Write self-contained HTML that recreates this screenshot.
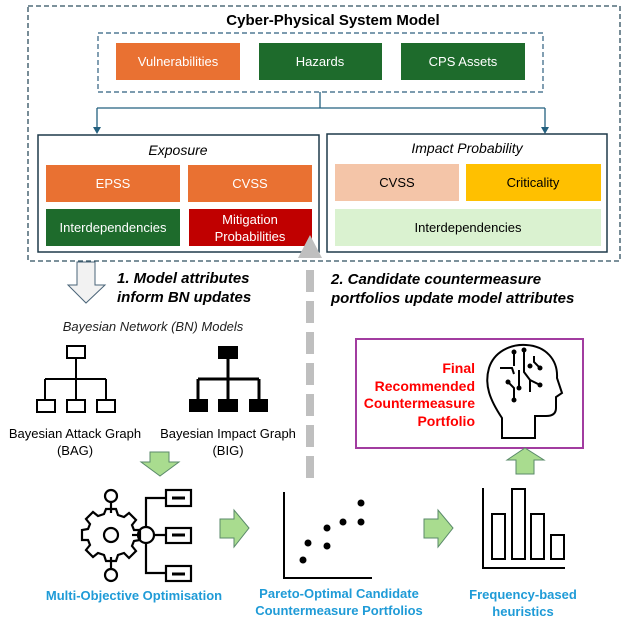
<!DOCTYPE html>
<html><head><style>body{margin:0;background:#fff}svg{display:block}text{font-family:"Liberation Sans",sans-serif}</style></head><body>
<svg width="634" height="626" viewBox="0 0 634 626" xmlns="http://www.w3.org/2000/svg">
<rect x="28" y="6" width="592" height="255" fill="none" stroke="#2E4F5F" stroke-width="1.3" stroke-dasharray="5,3"/>
<text x="333" y="25" font-size="15" font-weight="bold" text-anchor="middle">Cyber-Physical System  Model</text>
<rect x="98" y="33" width="445" height="59" fill="none" stroke="#2E5F7F" stroke-width="1.2" stroke-dasharray="5,3"/>
<rect x="116" y="43" width="124" height="37" fill="#E97132"/>
<text x="178" y="66" font-size="13" fill="#fff" text-anchor="middle">Vulnerabilities</text>
<rect x="259" y="43" width="123" height="37" fill="#1E6B2C"/>
<text x="320" y="66" font-size="13" fill="#fff" text-anchor="middle">Hazards</text>
<rect x="401" y="43" width="124" height="37" fill="#1E6B2C"/>
<text x="463" y="66" font-size="13" fill="#fff" text-anchor="middle">CPS Assets</text>
<path d="M320,92 V108 M97,108 H545 M97,108 V132 M545,108 V132" stroke="#23607F" stroke-width="1.3" fill="none"/>
<path d="M93,127 L101,127 L97,134 z M541,127 L549,127 L545,134 z" fill="#23607F"/>
<rect x="38" y="135" width="281" height="117" fill="none" stroke="#1F3A4A" stroke-width="1.5"/>
<rect x="327" y="134" width="280" height="118" fill="none" stroke="#1F3A4A" stroke-width="1.5"/>
<text x="178" y="155" font-size="14" font-style="italic" text-anchor="middle">Exposure</text>
<text x="467" y="153" font-size="14" font-style="italic" text-anchor="middle">Impact Probability</text>
<rect x="46" y="165" width="134" height="37" fill="#E97132"/><text x="113" y="188" font-size="13" fill="#fff" text-anchor="middle">EPSS</text>
<rect x="188" y="165" width="124" height="37" fill="#E97132"/><text x="250" y="188" font-size="13" fill="#fff" text-anchor="middle">CVSS</text>
<rect x="46" y="209" width="134" height="37" fill="#1E6B2C"/><text x="113" y="232" font-size="13" fill="#fff" text-anchor="middle">Interdependencies</text>
<rect x="189" y="209" width="123" height="37" fill="#C00000"/><text x="250" y="224" font-size="13" fill="#fff" text-anchor="middle">Mitigation</text><text x="250" y="241" font-size="13" fill="#fff" text-anchor="middle">Probabilities</text>
<rect x="335" y="164" width="124" height="37" fill="#F4C5A8"/><text x="397" y="187" font-size="13" text-anchor="middle">CVSS</text>
<rect x="466" y="164" width="135" height="37" fill="#FFC000"/><text x="533" y="187" font-size="13" text-anchor="middle">Criticality</text>
<rect x="335" y="209" width="266" height="37" fill="#DAF2D0"/><text x="468" y="232" font-size="13" text-anchor="middle">Interdependencies</text>
<path d="M77,262 H95 V285 H105 L86,303 L68,285 H77 z" fill="#F2F2F2" stroke="#4A6478" stroke-width="1"/>
<text x="117" y="283" font-size="15" font-weight="bold" font-style="italic">1. Model attributes</text>
<text x="117" y="302" font-size="15" font-weight="bold" font-style="italic">inform BN updates</text>
<text x="331" y="284" font-size="15" font-weight="bold" font-style="italic">2. Candidate countermeasure</text>
<text x="331" y="303" font-size="15" font-weight="bold" font-style="italic">portfolios update model attributes</text>
<path d="M310,235 L322,258 L298,258 z" fill="#BFBFBF"/>
<line x1="310" y1="270" x2="310" y2="485" stroke="#BFBFBF" stroke-width="8" stroke-dasharray="22,9"/>
<text x="153" y="331" font-size="13" font-style="italic" text-anchor="middle" fill="#222">Bayesian Network (BN) Models</text>
<g fill="none" stroke="#000" stroke-width="2">
<rect x="67" y="346" width="18" height="12"/><path d="M76,358 V400 M45,379 H106 M45,379 V400 M106,379 V400"/>
<rect x="37" y="400" width="18" height="12"/><rect x="67" y="400" width="18" height="12"/><rect x="97" y="400" width="18" height="12"/>
<path d="M228,358 V399 M198,379 H259 M198,379 V399 M259,379 V399" stroke-width="3"/>
</g>
<g fill="#000"><rect x="218" y="346" width="20" height="13"/><rect x="189" y="399" width="19" height="13"/><rect x="218" y="399" width="20" height="13"/><rect x="249" y="399" width="19" height="13"/></g>
<text x="75" y="438" font-size="13" text-anchor="middle">Bayesian Attack Graph</text><text x="75" y="455" font-size="13" text-anchor="middle">(BAG)</text>
<text x="228" y="438" font-size="13" text-anchor="middle">Bayesian Impact Graph</text><text x="228" y="455" font-size="13" text-anchor="middle">(BIG)</text>
<path d="M150,452 H169 V462 H179 L160,476 L141,462 H150 z" fill="#A9DC8F" stroke="#5A8A6A" stroke-width="1"/>
<rect x="356" y="339" width="227" height="109" fill="none" stroke="#A23CA0" stroke-width="2"/>
<g font-size="14" font-weight="bold" fill="#FF0000" text-anchor="end">
<text x="475" y="373">Final</text><text x="475" y="391">Recommended</text><text x="475" y="408">Countermeasure</text><text x="475" y="426">Portfolio</text></g>
<g fill="none" stroke="#000" stroke-width="2">
<path d="M502,438 V418 C490,400 484,385 489,368 C494,352 510,344 526,345 C546,346 558,360 557,378 L562,393 L556,397 L556,408 C556,414 552,416 546,416 L535,416 V438 z"/>
<path d="M514,352 V366 M524,350 V372 L530,380 V392 M534,356 V362 L540,368 M519,370 V388 M508,382 L514,388 V400 M530,380 L540,385 M500,368 H512 L514,374"/>
</g>
<g fill="#000"><circle cx="514" cy="352" r="2.5"/><circle cx="524" cy="350" r="2.5"/><circle cx="540" cy="368" r="2.5"/><circle cx="519" cy="388" r="2.5"/><circle cx="514" cy="400" r="2.5"/><circle cx="540" cy="385" r="2.5"/><circle cx="508" cy="382" r="2.5"/><circle cx="530" cy="366" r="2.5"/></g>
<path d="M516,474 V460 H507 L525,448 L544,460 H534 V474 z" fill="#A9DC8F" stroke="#5A8A6A" stroke-width="1"/>
<g fill="none" stroke="#000" stroke-width="2.2">
<circle cx="111" cy="496" r="6"/><circle cx="111" cy="575" r="6"/><line x1="111" y1="502" x2="111" y2="513"/><line x1="111" y1="557" x2="111" y2="569"/>
<path d="M106,514 H116 L118,520 L124,522 L129,518 L136,525 L132,530 L134,535 L140,535 V545 L134,546 L132,551 L136,556 L129,563 L124,558 L118,560 L116,566 H106 L104,560 L98,558 L93,562 L86,555 L90,550 L88,545 L82,545 V535 L88,534 L90,529 L86,524 L93,517 L98,521 L104,519 z" transform="translate(0,-5)"/>
<circle cx="111" cy="535" r="7"/><line x1="132" y1="535" x2="138" y2="535"/>
<circle cx="146" cy="535" r="8"/>
<path d="M146,527 V498 H166 M146,543 V573 H166 M154,535 H166"/>
<rect x="166" y="490" width="25" height="16"/><rect x="166" y="528" width="25" height="15"/><rect x="166" y="566" width="25" height="15"/>
<path d="M172,498 H185 M172,535 H185 M172,574 H185" stroke-width="3"/>
</g>
<text x="134" y="600" font-size="13" font-weight="bold" fill="#1F9BD7" text-anchor="middle">Multi-Objective Optimisation</text>
<path d="M220,519 H234 V510 L249,528 L234,547 V538 H220 z" fill="#A9DC8F" stroke="#5A8A6A" stroke-width="1"/>
<path d="M284,492 V578 H372" fill="none" stroke="#000" stroke-width="2"/>
<g fill="#000"><circle cx="361" cy="503" r="3.5"/><circle cx="343" cy="522" r="3.5"/><circle cx="361" cy="522" r="3.5"/><circle cx="327" cy="528" r="3.5"/><circle cx="308" cy="543" r="3.5"/><circle cx="327" cy="546" r="3.5"/><circle cx="303" cy="560" r="3.5"/></g>
<text x="339" y="598" font-size="13" font-weight="bold" fill="#1F9BD7" text-anchor="middle">Pareto-Optimal Candidate</text>
<text x="339" y="615" font-size="13" font-weight="bold" fill="#1F9BD7" text-anchor="middle">Countermeasure Portfolios</text>
<path d="M424,519 H438 V510 L453,528 L438,547 V538 H424 z" fill="#A9DC8F" stroke="#5A8A6A" stroke-width="1"/>
<g fill="none" stroke="#000" stroke-width="2">
<path d="M483,488 V568 H565"/>
<rect x="492" y="514" width="13" height="45"/><rect x="512" y="489" width="13" height="70"/><rect x="531" y="514" width="13" height="45"/><rect x="551" y="535" width="13" height="24"/>
</g>
<text x="523" y="599" font-size="13" font-weight="bold" fill="#1F9BD7" text-anchor="middle">Frequency-based</text>
<text x="523" y="616" font-size="13" font-weight="bold" fill="#1F9BD7" text-anchor="middle">heuristics</text>
</svg>
</body></html>
